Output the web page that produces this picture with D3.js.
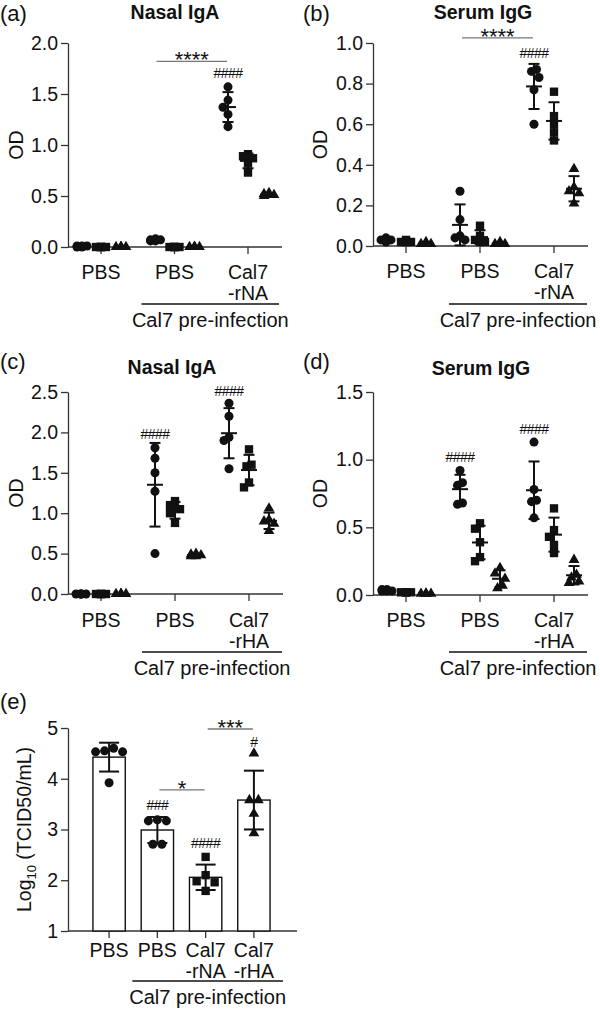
<!DOCTYPE html>
<html>
<head>
<meta charset="utf-8">
<script src="https://cdn.jsdelivr.net/npm/d3@7"></script>
<style>
  body { margin: 0; background: #fff; }
  svg text { font-family: "Liberation Sans", Arial, sans-serif; fill: #111; }
</style>
</head>
<body>
<div id="chart"></div>
<script>
// Data
const groupIds = ['naive', 'pbs', 'vacc'];
const labelsNA = [['PBS'], ['PBS'], ['Cal7', '-rNA']];
const labelsHA = [['PBS'], ['PBS'], ['Cal7', '-rHA']];
const seriesIds = ['circle', 'square', 'triangle'];
const preLabel = 'Cal7 pre-infection';

// [group][series] -> 5 mice
const nasalIgA_rNA = [
  [[0.01, 0.01, 0.0, 0.01, 0.0], [0, 0, 0, 0, 0], [0, 0, 0, 0, 0]],
  [[0.08, 0.07, 0.06, 0.06, 0.07], [0, 0, 0, 0, 0], [0, 0, 0, 0, 0]],
  [[1.57, 1.44, 1.37, 1.3, 1.18], [0.91, 0.89, 0.87, 0.82, 0.73], [0.53, 0.52, 0.51, 0.51, 0.5]],
];
const serumIgG_rNA = [
  [[0.03, 0.03, 0.02, 0.03, 0.04], [0.02, 0.02, 0.02, 0.03, 0.02], [0.01, 0.01, 0.02, 0.01, 0.01]],
  [[0.27, 0.13, 0.05, 0.04, 0.03], [0.1, 0.05, 0.03, 0.02, 0.02], [0.02, 0.01, 0.01, 0.01, 0.01]],
  [[0.87, 0.86, 0.83, 0.77, 0.6], [0.76, 0.64, 0.6, 0.56, 0.52], [0.38, 0.29, 0.27, 0.26, 0.21]],
];
const nasalIgA_rHA = [
  [[0, 0, 0, 0, 0], [0, 0, 0, 0, 0], [0, 0, 0, 0, 0]],
  [[1.81, 1.68, 1.5, 1.27, 0.5], [1.15, 1.1, 1.05, 1.0, 0.88], [0.5, 0.49, 0.48, 0.47, 0.47]],
  [[2.36, 2.2, 1.94, 1.9, 1.55], [1.79, 1.6, 1.58, 1.38, 1.32], [1.06, 0.92, 0.9, 0.87, 0.78]],
];
const serumIgG_rHA = [
  [[0.03, 0.04, 0.03, 0.03, 0.04], [0.02, 0.02, 0.02, 0.02, 0.02], [0.01, 0.01, 0.01, 0.01, 0.01]],
  [[0.92, 0.83, 0.81, 0.68, 0.67], [0.53, 0.49, 0.39, 0.28, 0.25], [0.2, 0.16, 0.12, 0.07, 0.05]],
  [[1.13, 0.78, 0.7, 0.69, 0.57], [0.64, 0.48, 0.43, 0.37, 0.31], [0.26, 0.15, 0.13, 0.1, 0.09]],
];

// (e) lung titres
const titreGroups = ['PBS', 'PBS ', 'Cal7-rNA', 'Cal7-rHA'];
const titreLabels = [['PBS'], ['PBS'], ['Cal7', '-rNA'], ['Cal7', '-rHA']];
const titreSymbols = ['circle', 'circle', 'square', 'triangle'];
const titreValues = [
  [4.6, 4.55, 4.53, 4.53, 3.92],
  [3.19, 3.17, 3.17, 2.71, 2.71],
  [2.46, 2.1, 1.98, 1.96, 1.79],
  [4.5, 3.58, 3.58, 3.31, 2.93],
];

// annotations: y value where they sit
const hashA = [{ g: 2, s: 0, v: 1.71, t: '####' }];
const barsA = [{ from: [1, 0], to: [2, 0], v: 1.82, t: '****' }];
const hashB = [{ g: 2, s: 0, v: 0.95, t: '####' }];
const barsB = [{ from: [1, 0], to: [2, 0], v: 1.025, t: '****' }];
const hashC = [{ g: 1, s: 0, v: 1.98, t: '####' }, { g: 2, s: 0, v: 2.51, t: '####' }];
const hashD = [{ g: 1, s: 0, v: 1.02, t: '####' }, { g: 2, s: 0, v: 1.23, t: '####' }];
const hashE = [{ g: 1, v: 3.48, t: '###' }, { g: 2, v: 2.73, t: '####' }, { g: 3, v: 4.72, t: '#' }];
const barsE = [{ from: 1, to: 2, v: 3.78, t: '*' }, { from: 2, to: 3, v: 4.98, t: '***' }];

// Drawing setup
const ink = '#111';
const axisInk = '#333';
const svg = d3.select('#chart').append('svg').attr('width', 600).attr('height', 1011);

const symbolTypes = { circle: d3.symbolCircle, square: d3.symbolSquare, triangle: d3.symbolTriangle };
const symbolSizes = { circle: 64, square: 70, triangle: 50 };
const symbolGen = (s) => d3.symbol().type(symbolTypes[s]).size(symbolSizes[s])();

// spread points horizontally where they collide (like a column scatter)
function spread(vals, yScale, step, maxSteps, minDist) {
  const offsets = [0];
  for (let k = 1; k <= maxSteps; k++) offsets.push(-k * step, k * step);
  const order = d3.range(vals.length).sort((a, b) => vals[b] - vals[a]);
  const placed = [];
  const out = [];
  order.forEach((i) => {
    const py = yScale(vals[i]);
    let best = 0, bestD = -1;
    for (const off of offsets) {
      const d = placed.length ? d3.min(placed, (p) => Math.hypot(p.dx - off, p.py - py)) : Infinity;
      if (d >= minDist) { best = off; break; }
      if (d > bestD) { bestD = d; best = off; }
    }
    placed.push({ i, dx: best, py });
  });
  // centre rows that sit at (nearly) the same height
  let row = [placed[0]];
  const flush = () => {
    if (row.length > 1) {
      const m = d3.mean(row, (p) => p.dx);
      row.forEach((p) => (p.dx -= m));
    }
  };
  for (let k = 1; k < placed.length; k++) {
    if (Math.abs(placed[k].py - row[row.length - 1].py) < 3) row.push(placed[k]);
    else { flush(); row = [placed[k]]; }
  }
  flush();
  placed.forEach((p) => (out[p.i] = p.dx));
  return out;
}

function yAxis(g, y, x0, ticks, fmt) {
  const ax = g.append('g')
    .attr('transform', `translate(${x0}, 0)`)
    .call(d3.axisLeft(y).tickValues(ticks).tickFormat(fmt).tickSize(7).tickPadding(3).tickSizeOuter(0));
  ax.attr('font-family', null).attr('font-size', 19.5);
  ax.selectAll('path, line').attr('stroke', axisInk).attr('stroke-width', 1.3);
  ax.selectAll('text').attr('fill', ink);
  return ax;
}

function commonText(g, o) {
  g.append('text').attr('x', o.letterX).attr('y', o.letterY).attr('font-size', 22).text(o.letter);
  if (o.title)
    g.append('text').attr('x', o.titleX).attr('y', o.titleY).attr('text-anchor', 'middle')
      .attr('font-size', 19.5).attr('font-weight', 'bold').text(o.title);
  g.append('text')
    .attr('transform', `translate(${o.ylabX}, ${(o.y0 + o.y1) / 2}) rotate(-90)`)
    .attr('text-anchor', 'middle').attr('font-size', 19.5).text(o.ylab);
}

function xLabels(g, xs, labels, o) {
  labels.forEach((lines, i) => {
    const t = g.append('text').attr('text-anchor', 'middle').attr('font-size', 19.5);
    lines.forEach((l, k) => t.append('tspan').attr('x', xs[i]).attr('y', o.labelBase + k * 21).text(l));
  });
  g.append('line')
    .attr('x1', xs[1] + o.brL).attr('x2', xs[xs.length - 1] + o.brR)
    .attr('y1', o.bracketY).attr('y2', o.bracketY)
    .attr('stroke', ink).attr('stroke-width', 1.3);
  g.append('text')
    .attr('x', (xs[1] + o.brL + xs[xs.length - 1] + o.brR) / 2).attr('y', o.bracketY + 23)
    .attr('text-anchor', 'middle').attr('font-size', 20).text(preLabel);
}

function hashText(g, x, y, t) {
  g.append('text').attr('x', x).attr('y', y + 5).attr('text-anchor', 'middle')
    .attr('font-size', 14).attr('letter-spacing', -0.5).text(t);
}

function sigBar(g, x1, x2, y, t) {
  g.append('line').attr('x1', x1).attr('x2', x2).attr('y1', y).attr('y2', y)
    .attr('stroke', '#777').attr('stroke-width', 1.3);
  g.append('text').attr('x', (x1 + x2) / 2).attr('y', y + 6).attr('text-anchor', 'middle')
    .attr('font-size', 22).text(t);
}

function errorBar(g, x, y, mean, sd, capW, meanW) {
  g.append('line').attr('x1', x).attr('x2', x).attr('y1', y(mean - sd)).attr('y2', y(mean + sd))
    .attr('stroke', ink).attr('stroke-width', 2);
  [mean - sd, mean + sd].forEach((v) =>
    g.append('line').attr('x1', x - capW / 2).attr('x2', x + capW / 2).attr('y1', y(v)).attr('y2', y(v))
      .attr('stroke', ink).attr('stroke-width', 2));
  if (meanW)
    g.append('line').attr('x1', x - meanW / 2).attr('x2', x + meanW / 2).attr('y1', y(mean)).attr('y2', y(mean))
      .attr('stroke', ink).attr('stroke-width', 2);
}

// Scatter panels (a)-(d)
function scatterPanel(o) {
  const g = svg.append('g');
  const y = d3.scaleLinear().domain(o.yDomain).range([o.y0, o.y1]);
  const x = d3.scalePoint().domain(groupIds).range([o.x0 + 33, o.x1 - 34]);
  const sub = d3.scalePoint().domain(seriesIds).range([-20, 20]);
  const px = (gi, si) => x(groupIds[gi]) + sub(seriesIds[si]);

  yAxis(g, y, o.x0, o.yTicks, d3.format('.1f'));
  g.append('line').attr('x1', o.x0).attr('x2', o.x1).attr('y1', y(0)).attr('y2', y(0))
    .attr('stroke', axisInk).attr('stroke-width', 1.3);
  groupIds.forEach((id) =>
    g.append('line').attr('x1', x(id)).attr('x2', x(id)).attr('y1', y(0)).attr('y2', y(0) + 7)
      .attr('stroke', axisInk).attr('stroke-width', 1.3));

  o.data.forEach((grp, gi) =>
    grp.forEach((vals, si) => {
      const cx = px(gi, si);
      const dx = spread(vals, y, 5, 1, 8);
      g.append('g').selectAll('path').data(vals).join('path')
        .attr('d', symbolGen(seriesIds[si]))
        .attr('transform', (d, i) => `translate(${cx + dx[i]}, ${y(d)})`)
        .attr('fill', ink);
      errorBar(g, cx, y, d3.mean(vals), d3.deviation(vals), 11, 16);
    }));

  (o.hashes || []).forEach((h) => hashText(g, px(h.g, h.s), y(h.v), h.t));
  (o.bars || []).forEach((b) => sigBar(g, px(...b.from) + 2, px(...b.to) - 1, y(b.v), b.t));

  xLabels(g, groupIds.map((id) => x(id)), o.labels, o);
  commonText(g, o);
}

scatterPanel({
  data: nasalIgA_rNA, labels: labelsNA, hashes: hashA, bars: barsA,
  x0: 68, x1: 282, y0: 247, y1: 43, yDomain: [0, 2], yTicks: [0, 0.5, 1, 1.5, 2],
  labelBase: 279, bracketY: 304, brL: -33, brR: 31,
  title: 'Nasal IgA', titleX: 175, titleY: 19, letter: '(a)', letterX: 0, letterY: 21, ylab: 'OD', ylabX: 23,
});
scatterPanel({
  data: serumIgG_rNA, labels: labelsNA, hashes: hashB, bars: barsB,
  x0: 373, x1: 588, y0: 246, y1: 43, yDomain: [0, 1], yTicks: [0, 0.2, 0.4, 0.6, 0.8, 1],
  labelBase: 278, bracketY: 304, brL: -31, brR: 33,
  title: 'Serum IgG', titleX: 483, titleY: 19, letter: '(b)', letterX: 303, letterY: 21, ylab: 'OD', ylabX: 327,
});
scatterPanel({
  data: nasalIgA_rHA, labels: labelsHA, hashes: hashC,
  x0: 68, x1: 283, y0: 594, y1: 392, yDomain: [0, 2.5], yTicks: [0, 0.5, 1, 1.5, 2, 2.5],
  labelBase: 627, bracketY: 652, brL: -33, brR: 33,
  title: 'Nasal IgA', titleX: 172, titleY: 374, letter: '(c)', letterX: 0, letterY: 369, ylab: 'OD', ylabX: 23,
});
scatterPanel({
  data: serumIgG_rHA, labels: labelsHA, hashes: hashD,
  x0: 373, x1: 588, y0: 595, y1: 392, yDomain: [0, 1.5], yTicks: [0, 0.5, 1, 1.5],
  labelBase: 627, bracketY: 652, brL: -31, brR: 33,
  title: 'Serum IgG', titleX: 481, titleY: 375, letter: '(d)', letterX: 303, letterY: 369, ylab: 'OD', ylabX: 327,
});

// Bar panel (e)
function barPanel(o) {
  const g = svg.append('g');
  const y = d3.scaleLinear().domain([1, 5]).range([o.y0, o.y1]);
  const x = d3.scaleBand().domain(titreGroups).range([77, 286]).padding(0.33);
  const cx = (i) => x(titreGroups[i]) + x.bandwidth() / 2;

  yAxis(g, y, o.x0, [1, 2, 3, 4, 5], d3.format('d'));
  g.append('line').attr('x1', o.x0).attr('x2', o.x1).attr('y1', o.y0).attr('y2', o.y0)
    .attr('stroke', axisInk).attr('stroke-width', 1.3);

  titreValues.forEach((vals, i) => {
    const m = d3.mean(vals);
    g.append('line').attr('x1', cx(i)).attr('x2', cx(i)).attr('y1', o.y0).attr('y2', o.y0 + 7)
      .attr('stroke', axisInk).attr('stroke-width', 1.3);
    g.append('rect')
      .attr('x', x(titreGroups[i])).attr('width', x.bandwidth())
      .attr('y', y(m)).attr('height', o.y0 - y(m))
      .attr('fill', '#fff').attr('stroke', ink).attr('stroke-width', 1.4);
    errorBar(g, cx(i), y, m, d3.deviation(vals), 20, 0);
    const dx = spread(vals, y, 9, 2, 9);
    g.append('g').selectAll('path').data(vals).join('path')
      .attr('d', symbolGen(titreSymbols[i]))
      .attr('transform', (d, k) => `translate(${cx(i) + dx[k]}, ${y(d)})`)
      .attr('fill', ink);
  });

  hashE.forEach((h) => hashText(g, cx(h.g), y(h.v), h.t));
  barsE.forEach((b) => sigBar(g, cx(b.from) + 2, cx(b.to) - 1, y(b.v), b.t));

  xLabels(g, titreGroups.map((_, i) => cx(i)), titreLabels, o);

  g.append('text').attr('x', o.letterX).attr('y', o.letterY).attr('font-size', 22).text(o.letter);
  const yl = g.append('text')
    .attr('transform', `translate(${o.ylabX}, ${(o.y0 + o.y1) / 2}) rotate(-90)`)
    .attr('text-anchor', 'middle').attr('font-size', 19.5);
  yl.append('tspan').text('Log');
  yl.append('tspan').attr('font-size', 13).attr('dy', 5).text('10');
  yl.append('tspan').attr('dy', -5).text(' (TCID50/mL)');
}

barPanel({
  x0: 68, x1: 297, y0: 931, y1: 728,
  labelBase: 957, bracketY: 981, brL: -25, brR: 29,
  letter: '(e)', letterX: 0, letterY: 709, ylabX: 31,
});
</script>
</body>
</html>
